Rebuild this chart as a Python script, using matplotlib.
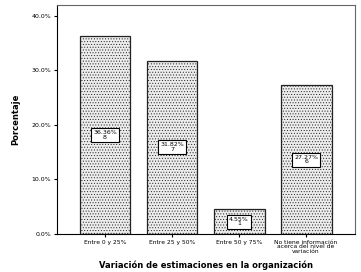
import numpy as np
import matplotlib.pyplot as plt

categorias = ['Entre 0 y 25%', 'Entre 25 y 50%', 'Entre 50 y 75%',
              'No tiene información\nacerca del nivel de\nvariación']
porcentajes = [36.36, 31.82, 4.55, 27.27]
conteos = [8, 7, 1, 6]

plt.rcParams['hatch.color'] = '#b0b0b0'
plt.rcParams['hatch.linewidth'] = 0.4

fig = plt.figure(figsize=(3.61, 2.72), dpi=100)
ax = fig.add_axes([57/361, 38/272, 298/361, 229/272])

ind = np.arange(len(categorias))
bars = ax.bar(ind, porcentajes, 0.76, color='#ececec', edgecolor='#222222',
              linewidth=0.9, hatch='......')

for i in range(len(categorias)):
    ax.text(ind[i], porcentajes[i] / 2, '%.2f%%\n%d' % (porcentajes[i], conteos[i]),
            ha='center', va='center', fontsize=4.5, linespacing=0.9,
            bbox=dict(boxstyle='square,pad=0.35', fc='white', ec='black', lw=0.8))

ax.set_xlim(-0.716, 3.73)
ax.set_ylim(0, 42.0)
ax.set_yticks([0, 10, 20, 30, 40])
ax.set_yticklabels(['0.0%', '10.0%', '20.0%', '30.0%', '40.0%'], fontsize=4.5)
ax.set_xticks(ind)
ax.set_xticklabels(categorias, fontsize=4.3, linespacing=0.9)
ax.tick_params(axis='both', length=2.5, width=0.8, pad=1.5)

for s in ax.spines.values():
    s.set_linewidth(0.8)
ax.spines['top'].set_color('#666666')
ax.spines['right'].set_color('#666666')

ax.set_ylabel('Porcentaje', fontsize=6, fontweight='bold', labelpad=8)
ax.set_xlabel('Variación de estimaciones en la organización', fontsize=6,
              fontweight='bold', labelpad=5)

fig.savefig('out.png', dpi=100)
